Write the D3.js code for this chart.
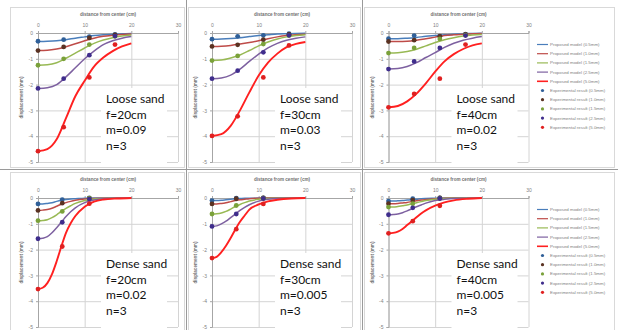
<!DOCTYPE html>
<html>
<head>
<meta charset="utf-8">
<script src="https://cdn.jsdelivr.net/npm/d3@7"></script>
<style>
  body { margin: 0; background: #fff; }
  svg { display: block; }
</style>
</head>
<body>
<div class="chart"></div>
<script>
// sample distances (cm) of the model curves and of the test points
const distLoose = [0, 2, 4, 6, 8, 10, 12, 14, 16, 18, 20];
const distDense = [0, 1, 2, 3, 4, 5, 6, 7, 8, 10, 12, 14, 17, 20];
const testDistLoose = [0, 5.5, 11, 16.5];
const testDistDense = [0, 5.2, 11];

const seriesNames = ['0.5mm', '1.0mm', '1.5mm', '2.5mm', '5.0mm'];
const xTicks = [0, 10, 20, 30];
const yTicks = [0, -1, -2, -3, -4, -5];

// model curves, one row per settlement (0.5, 1.0, 1.5, 2.5, 5.0 mm)
const loose20Model = [
  [-0.33, -0.32, -0.30, -0.26, -0.20, -0.15, -0.10, -0.07, -0.05, -0.03, -0.02],
  [-0.68, -0.67, -0.62, -0.53, -0.42, -0.30, -0.20, -0.13, -0.09, -0.06, -0.04],
  [-1.25, -1.23, -1.15, -0.98, -0.78, -0.58, -0.40, -0.27, -0.18, -0.12, -0.08],
  [-2.15, -2.12, -2.00, -1.70, -1.35, -1.00, -0.70, -0.45, -0.30, -0.20, -0.14],
  [-4.58, -4.50, -4.12, -3.30, -2.45, -1.85, -1.30, -0.95, -0.70, -0.52, -0.40]
];
const loose20Test = [
  [-0.32, -0.26, -0.14, -0.05],
  [-0.68, -0.54, -0.19, -0.07],
  [-1.25, -1.00, -0.45, -0.13],
  [-2.15, -1.77, -0.86, -0.12],
  [-4.58, -3.65, -1.72, -0.45]
];
const loose30Model = [
  [-0.24, -0.23, -0.21, -0.18, -0.14, -0.10, -0.07, -0.04, -0.03, -0.02, -0.01],
  [-0.52, -0.51, -0.48, -0.43, -0.37, -0.30, -0.22, -0.15, -0.10, -0.07, -0.05],
  [-1.07, -1.05, -0.97, -0.85, -0.68, -0.50, -0.35, -0.23, -0.15, -0.10, -0.07],
  [-1.77, -1.74, -1.63, -1.40, -1.10, -0.82, -0.58, -0.40, -0.28, -0.20, -0.15],
  [-3.99, -3.92, -3.60, -3.00, -2.30, -1.65, -1.15, -0.80, -0.55, -0.42, -0.35]
];
const loose30Test = [
  [-0.24, -0.13, -0.09, -0.03],
  [-0.52, -0.46, -0.26, -0.05],
  [-1.07, -0.89, -0.43, -0.10],
  [-1.77, -1.46, -0.75, -0.09],
  [-3.99, -3.23, -1.72, -0.48]
];
const loose40Model = [
  [-0.22, -0.22, -0.20, -0.17, -0.13, -0.10, -0.07, -0.05, -0.03, -0.02, -0.01],
  [-0.33, -0.33, -0.32, -0.28, -0.22, -0.16, -0.10, -0.07, -0.05, -0.03, -0.02],
  [-0.78, -0.77, -0.72, -0.63, -0.50, -0.37, -0.26, -0.18, -0.12, -0.08, -0.06],
  [-1.40, -1.38, -1.30, -1.15, -0.95, -0.76, -0.56, -0.40, -0.28, -0.20, -0.14],
  [-2.88, -2.83, -2.65, -2.35, -1.95, -1.50, -1.10, -0.82, -0.62, -0.48, -0.40]
];
const loose40Test = [
  [-0.22, -0.10, -0.12, -0.04],
  [-0.33, -0.28, -0.13, -0.05],
  [-0.78, -0.58, -0.23, -0.08],
  [-1.40, -1.10, -0.58, -0.10],
  [-2.88, -2.36, -1.77, -0.45]
];
const dense20Model = [
  [-0.23, -0.23, -0.21, -0.18, -0.13, -0.09, -0.06, -0.04, -0.03, -0.01, 0, 0, 0, 0],
  [-0.48, -0.47, -0.45, -0.40, -0.32, -0.24, -0.18, -0.13, -0.09, -0.04, -0.02, -0.01, 0, 0],
  [-0.88, -0.87, -0.84, -0.76, -0.65, -0.52, -0.40, -0.30, -0.21, -0.10, -0.04, -0.02, -0.01, 0],
  [-1.58, -1.56, -1.50, -1.35, -1.15, -0.94, -0.72, -0.53, -0.38, -0.18, -0.08, -0.03, -0.01, 0],
  [-3.53, -3.48, -3.30, -2.95, -2.45, -1.88, -1.35, -0.98, -0.70, -0.34, -0.14, -0.06, -0.02, 0]
];
const dense20Test = [
  [-0.23, -0.06, 0],
  [-0.48, -0.20, -0.02],
  [-0.88, -0.52, -0.02],
  [-1.58, -0.94, -0.04],
  [-3.53, -1.88, -0.22]
];
const dense30Model = [
  [-0.10, -0.10, -0.09, -0.07, -0.05, -0.03, -0.02, -0.01, -0.01, 0, 0, 0, 0, 0],
  [-0.23, -0.23, -0.21, -0.18, -0.14, -0.10, -0.07, -0.05, -0.03, -0.01, 0, 0, 0, 0],
  [-0.62, -0.61, -0.58, -0.52, -0.43, -0.33, -0.25, -0.18, -0.12, -0.05, -0.02, -0.01, 0, 0],
  [-1.10, -1.08, -1.00, -0.90, -0.76, -0.62, -0.48, -0.36, -0.26, -0.12, -0.05, -0.02, -0.01, 0],
  [-2.33, -2.28, -2.10, -1.85, -1.55, -1.22, -0.92, -0.68, -0.45, -0.25, -0.13, -0.07, -0.02, 0]
];
const dense30Test = [
  [-0.10, -0.01, 0],
  [-0.23, -0.03, 0],
  [-0.62, -0.29, -0.01],
  [-1.10, -0.62, -0.02],
  [-2.33, -1.21, -0.23]
];
const dense40Model = [
  [-0.12, -0.12, -0.11, -0.10, -0.08, -0.06, -0.05, -0.03, -0.02, -0.01, 0, 0, 0, 0],
  [-0.22, -0.22, -0.21, -0.19, -0.17, -0.14, -0.11, -0.08, -0.06, -0.03, -0.01, 0, 0, 0],
  [-0.35, -0.35, -0.33, -0.30, -0.27, -0.22, -0.18, -0.14, -0.10, -0.05, -0.02, -0.01, 0, 0],
  [-0.65, -0.64, -0.62, -0.57, -0.50, -0.42, -0.34, -0.27, -0.20, -0.10, -0.05, -0.02, -0.01, 0],
  [-1.37, -1.35, -1.30, -1.20, -1.05, -0.90, -0.75, -0.60, -0.48, -0.30, -0.17, -0.09, -0.03, 0]
];
const dense40Test = [
  [-0.12, -0.03, 0],
  [-0.22, -0.08, 0],
  [-0.35, -0.22, -0.01],
  [-0.65, -0.38, -0.02],
  [-1.37, -0.90, -0.30]
];

const panelLabels = [
  ['Loose sand', 'f=20cm', 'm=0.09', 'n=3'],
  ['Loose sand', 'f=30cm', 'm=0.03', 'n=3'],
  ['Loose sand', 'f=40cm', 'm=0.02', 'n=3'],
  ['Dense sand', 'f=20cm', 'm=0.02', 'n=3'],
  ['Dense sand', 'f=30cm', 'm=0.005', 'n=3'],
  ['Dense sand', 'f=40cm', 'm=0.005', 'n=3']
];

const lineColors = ['#4a7ebb', '#be4b48', '#98b954', '#7d60a0', '#ff2020'];
const dotColors = ['#2f5f98', '#5a3222', '#7aa13a', '#3f2d8c', '#e02020'];

const width = 618, height = 330;
const svg = d3.select('.chart').append('svg')
  .attr('width', width)
  .attr('height', height);

const colX0 = [38, 212, 388.5];
const colChart = [[10, 184], [188, 360], [364, 614]];
const rowTop = [7, 172];

// panel table: model rows, test rows and x positions
const panels = [
  { model: loose20Model, test: loose20Test, xs: distLoose, tx: testDistLoose },
  { model: loose30Model, test: loose30Test, xs: distLoose, tx: testDistLoose },
  { model: loose40Model, test: loose40Test, xs: distLoose, tx: testDistLoose },
  { model: dense20Model, test: dense20Test, xs: distDense, tx: testDistDense },
  { model: dense30Model, test: dense30Test, xs: distDense, tx: testDistDense },
  { model: dense40Model, test: dense40Test, xs: distDense, tx: testDistDense }
];

const tiny = 'Liberation Sans, Arial, sans-serif';

panels.forEach(function(p, i) {
  const col = i % 3, row = Math.floor(i / 3);
  const top = rowTop[row];
  const x0 = colX0[col];
  const g = svg.append('g');

  // chart area outline
  g.append('rect')
    .attr('x', colChart[col][0] + 0.5).attr('y', top + 0.5)
    .attr('width', colChart[col][1] - colChart[col][0])
    .attr('height', 160)
    .attr('fill', '#fff')
    .attr('stroke', '#d9d9d9');

  const x = d3.scaleLinear().domain([0, 30]).range([x0, x0 + 140]);
  const y = d3.scaleLinear().domain([-5, 0]).range([top + 155, top + 26]);

  // gridlines
  g.append('g').selectAll('line.v').data(xTicks).enter().append('line')
    .attr('x1', d => x(d) + 0.5).attr('x2', d => x(d) + 0.5)
    .attr('y1', y(0)).attr('y2', y(-5))
    .attr('stroke', '#d4d4d4');
  g.append('g').selectAll('line.h').data(yTicks).enter().append('line')
    .attr('x1', x(0)).attr('x2', x(30))
    .attr('y1', d => y(d) + 0.5).attr('y2', d => y(d) + 0.5)
    .attr('stroke', '#d4d4d4');

  // axes
  const xAxis = g.append('g')
    .attr('transform', `translate(0,${y(0)})`)
    .call(d3.axisTop(x).tickValues(xTicks).tickSize(2).tickPadding(4).tickFormat(d => String(d)));
  const yAxis = g.append('g')
    .attr('transform', `translate(${x(0)},0)`)
    .call(d3.axisLeft(y).tickValues(yTicks).tickSize(2).tickPadding(3).tickFormat(d => String(d)));
  [xAxis, yAxis].forEach(function(a) {
    a.select('.domain').attr('stroke', '#a6a6a6');
    a.selectAll('.tick line').attr('stroke', '#a6a6a6');
    a.selectAll('text').attr('font-size', 5).attr('font-family', tiny).attr('fill', '#7f7f7f');
  });

  g.append('text')
    .attr('x', x(15)).attr('y', top + 9)
    .attr('text-anchor', 'middle')
    .attr('font-size', 4.6).attr('font-weight', 'bold')
    .attr('font-family', tiny).attr('fill', '#6f6f6f')
    .text('distance from center (cm)');
  g.append('text')
    .attr('transform', `translate(${x0 - 15},${y(-2.5)}) rotate(-90)`)
    .attr('text-anchor', 'middle')
    .attr('font-size', 4.6).attr('font-weight', 'bold')
    .attr('font-family', tiny).attr('fill', '#6f6f6f')
    .text('displacement (mm)');

  // white label box over the plot
  const bx = x0 + 63;
  g.append('rect')
    .attr('x', bx).attr('y', top + 81)
    .attr('width', 66).attr('height', 78)
    .attr('fill', '#fff');
  g.append('text')
    .attr('font-size', 12)
    .attr('font-family', 'Lato, "Open Sans", sans-serif')
    .attr('fill', '#111')
    .selectAll('tspan').data(panelLabels[i]).enter().append('tspan')
    .attr('x', bx + 5)
    .attr('y', (d, k) => top + 96 + k * 15.6)
    .text(d => d);

  // model curves
  const line = d3.line()
    .x((d, k) => x(p.xs[k]))
    .y(d => y(d))
    .curve(d3.curveMonotoneX);
  g.append('g').selectAll('path').data(p.model).enter().append('path')
    .attr('d', line)
    .attr('fill', 'none')
    .attr('stroke', (d, k) => lineColors[k])
    .attr('stroke-width', (d, k) => k === 4 ? 1.9 : 1.5);

  // test points
  p.test.forEach(function(vals, k) {
    g.append('g').selectAll('circle').data(vals).enter().append('circle')
      .attr('cx', (d, j) => x(p.tx[j]))
      .attr('cy', d => y(d))
      .attr('r', 2.4)
      .attr('fill', dotColors[k]);
  });

  // legend for the right column
  if (col === 2) {
    const lg = g.append('g');
    seriesNames.forEach(function(s, k) {
      const ly = top + 37.5 + k * 9.2;
      lg.append('line')
        .attr('x1', 537).attr('x2', 548).attr('y1', ly).attr('y2', ly)
        .attr('stroke', lineColors[k]).attr('stroke-width', k === 4 ? 1.6 : 1.2);
      lg.append('text')
        .attr('x', 550).attr('y', ly + 1.5)
        .attr('font-size', 4.4).attr('font-family', tiny).attr('fill', '#7f7f7f')
        .text('Proposed model (' + s + ')');
    });
    seriesNames.forEach(function(s, k) {
      const ly = top + 37.5 + (k + 5) * 9.2;
      lg.append('circle')
        .attr('cx', 542.5).attr('cy', ly).attr('r', 1.6)
        .attr('fill', dotColors[k]);
      lg.append('text')
        .attr('x', 550).attr('y', ly + 1.5)
        .attr('font-size', 4.4).attr('font-family', tiny).attr('fill', '#7f7f7f')
        .text('Experimental result (' + s + ')');
    });
  }
});

// table rules between cells
svg.append('g').selectAll('line').data([186, 362]).enter().append('line')
  .attr('x1', d => d + 0.5).attr('x2', d => d + 0.5)
  .attr('y1', 0).attr('y2', height)
  .attr('stroke', '#9a9a9a');
svg.append('line')
  .attr('x1', 0).attr('x2', width)
  .attr('y1', 169.5).attr('y2', 169.5)
  .attr('stroke', '#9a9a9a');
</script>
</body>
</html>
